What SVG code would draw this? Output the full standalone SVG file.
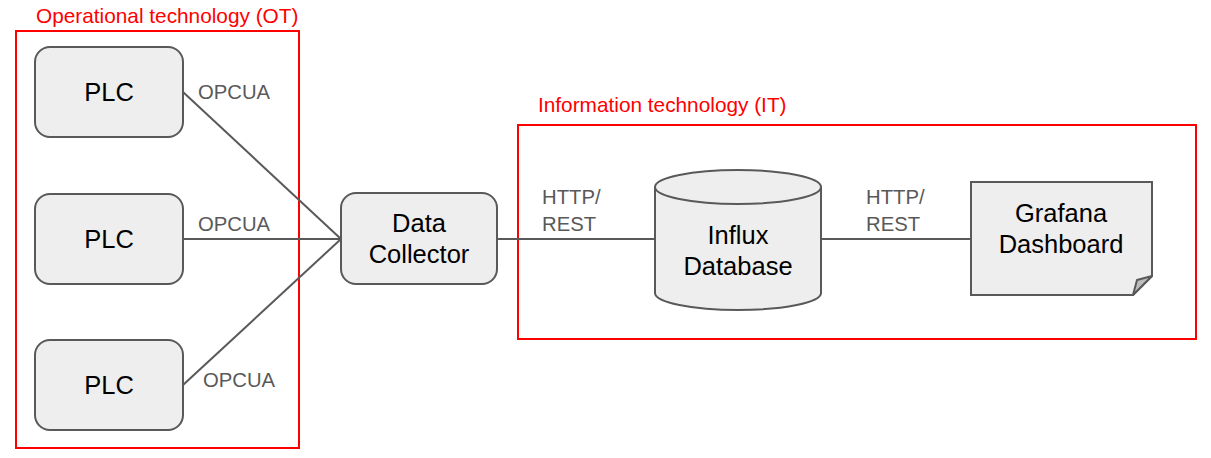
<svg xmlns="http://www.w3.org/2000/svg" width="1211" height="458" viewBox="0 0 1211 458">
<style>
.zone{fill:none;stroke:#ff0000;stroke-width:2}
.ztxt{font-family:"Liberation Sans",Arial,sans-serif;font-size:20.8px;fill:#ff0000}
.node{fill:#eeeeee;stroke:#595959;stroke-width:2}
.ntxt{font-family:"Liberation Sans",Arial,sans-serif;font-size:25.5px;fill:#000000;text-anchor:middle}
.conn{stroke:#595959;stroke-width:2;fill:none}
.ltxt{font-family:"Liberation Sans",Arial,sans-serif;font-size:20.3px;fill:#595959}
</style>
<rect width="1211" height="458" fill="#ffffff"/>
<g id="zone-ot">
<rect class="zone" x="16" y="31" width="283" height="417"/>
<text class="ztxt" x="36" y="23">Operational technology (OT)</text>
</g>
<g id="zone-it">
<rect class="zone" x="518" y="125" width="678" height="214"/>
<text class="ztxt" x="538" y="112">Information technology (IT)</text>
</g>
<g id="connectors">
<line class="conn" x1="183" y1="92" x2="341" y2="239"/>
<line class="conn" x1="183" y1="239" x2="341" y2="239"/>
<line class="conn" x1="183" y1="385" x2="341" y2="239"/>
<line class="conn" x1="497" y1="239" x2="655" y2="239"/>
<line class="conn" x1="821" y1="239" x2="971" y2="239"/>
<text class="ltxt" x="198" y="99">OPCUA</text>
<text class="ltxt" x="198" y="231">OPCUA</text>
<text class="ltxt" x="203" y="387">OPCUA</text>
<text class="ltxt" x="542" y="204">HTTP/</text>
<text class="ltxt" x="542" y="231">REST</text>
<text class="ltxt" x="866" y="204">HTTP/</text>
<text class="ltxt" x="866" y="231">REST</text>
</g>
<g id="plc1">
<rect class="node" x="35" y="47" width="148" height="90" rx="15"/>
<text class="ntxt" x="109" y="101">PLC</text>
</g>
<g id="plc2">
<rect class="node" x="35" y="194" width="148" height="90" rx="15"/>
<text class="ntxt" x="109" y="248">PLC</text>
</g>
<g id="plc3">
<rect class="node" x="35" y="340" width="148" height="90" rx="15"/>
<text class="ntxt" x="109" y="394">PLC</text>
</g>
<g id="data-collector">
<rect class="node" x="341" y="193" width="156" height="91" rx="15"/>
<text class="ntxt" x="419" y="232">Data</text>
<text class="ntxt" x="419" y="263">Collector</text>
</g>
<g id="influx-db">
<path class="node" d="M655,187 A83,17 0 0 1 821,187 L821,293 A83,17 0 0 1 655,293 Z"/>
<path class="node" d="M655,187 A83,17 0 0 0 821,187" fill="none"/>
<text class="ntxt" x="738" y="244">Influx</text>
<text class="ntxt" x="738" y="275">Database</text>
</g>
<g id="grafana">
<path class="node" d="M971,182 L1152,182 L1152,276 L1133,295 L971,295 Z"/>
<path d="M1152,276 L1133,295 L1137,280 Z" fill="#bdbdbd" stroke="#595959" stroke-width="2" stroke-linejoin="round"/>
<text class="ntxt" x="1061" y="222">Grafana</text>
<text class="ntxt" x="1061" y="253">Dashboard</text>
</g>
</svg>
